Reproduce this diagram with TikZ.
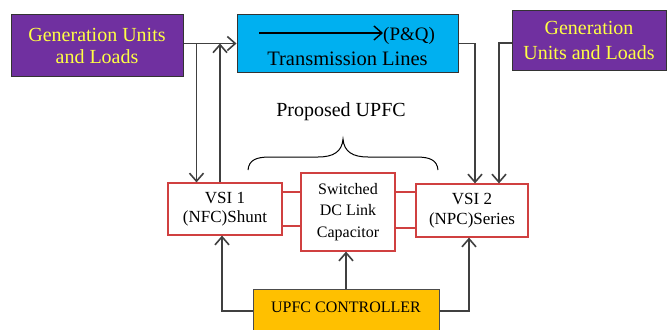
\documentclass[tikz,border=0pt]{standalone}
\usepackage{fontspec}
\setmainfont{Liberation Serif}
\usetikzlibrary{arrows.meta,positioning}
\definecolor{genpurple}{HTML}{7030A0}
\definecolor{genyellow}{HTML}{FFFF44}
\definecolor{linecyan}{HTML}{00B0F0}
\definecolor{ctrlorange}{HTML}{FFC000}
\definecolor{vsired}{HTML}{D04040}
\definecolor{wiregray}{HTML}{404040}

\begin{document}
\begin{tikzpicture}[
  x=1pt, y=-1pt,
  genbox/.style={draw=black!80, line width=1pt, fill=genpurple, text=genyellow, align=center,
    font=\fontsize{20}{22}\selectfont, inner sep=0pt},
  linebox/.style={draw=black!80, line width=1pt, fill=linecyan, align=center,
    font=\fontsize{20.5}{21}\selectfont, inner xsep=0pt, inner ysep=4pt},
  vsibox/.style={draw=vsired, line width=1.2pt, fill=white, align=center,
    font=\fontsize{17}{19.5}\selectfont, inner sep=0pt},
  dcbox/.style={vsibox, font=\fontsize{16}{21.5}\selectfont},
  ctrlbox/.style={draw=black!70, line width=1pt, fill=ctrlorange, align=center,
    font=\fontsize{16}{19}\selectfont, inner xsep=0pt, inner ysep=12pt},
  arr/.style={draw=wiregray, line width=1.6pt, -{Straight Barb[length=8pt,width=14pt]}},
  redlink/.style={draw=vsired, line width=1.2pt}
]
\useasboundingbox (0,0) rectangle (668,329);

% top row
\node[genbox, minimum width=172pt, minimum height=61pt] (gen1) at (97,45.5) {Generation Units\\and Loads};
\node[linebox, minimum width=221pt, minimum height=57pt, text height=46pt, text depth=3pt] (trans) at (347.5,43.5) {Transmission Lines};
\node[genbox, minimum width=154pt, minimum height=60pt, font=\fontsize{20}{25}\selectfont] (gen2) at (589,40.5) {Generation\\Units and Loads};

\coordinate (pqtail) at (259,33);
\node[font=\fontsize{19}{21}\selectfont, inner sep=0pt, anchor=west] (pq) at (383,36) {(P\&Q)};
\draw[arr, line width=1.4pt, draw=black] (pqtail) -- (pq.west |- pqtail);

% UPFC part
\node[font=\fontsize{20}{21}\selectfont, inner sep=0pt] (upfc) at (341,112) {Proposed UPFC};
\draw[line width=1pt] (248,170) .. controls (249,160) and (256,157) .. (270,157) -- (318,157)
  .. controls (333,157) and (342,152) .. (343,139)
  .. controls (344,152) and (353,157) .. (368,157) -- (416,157)
  .. controls (430,157) and (437,160) .. (438,170);

\node[vsibox, minimum width=114pt, minimum height=52pt] (vsi1) at (225,209) {VSI 1\\(NFC)Shunt};
\node[dcbox, minimum width=94pt, minimum height=78pt] (dc) at (348,212) {Switched\\DC Link\\Capacitor};
\node[vsibox, minimum width=112pt, minimum height=53pt] (vsi2) at (472,210.5) {VSI 2\\(NPC)Series};

\node[ctrlbox, anchor=north, minimum width=186pt, text height=11pt, text depth=22pt] (ctrl) at (346,289) {UPFC CONTROLLER};

% connectors
\draw[arr] ([yshift=2pt]gen1.east) -- ([yshift=2pt]gen1.east -| trans.west);
\draw[arr] ([xshift=13pt,yshift=2pt]gen1.east) -- ([xshift=13pt]gen1.east |- vsi1.north);
\draw[arr] ([xshift=-5pt]vsi1.north) -- ([xshift=-5pt,yshift=2pt]vsi1.north |- gen1.east);
\draw[arr] (trans.east) -| ([xshift=3pt]vsi2.north);
\draw[arr] ([yshift=-2.5pt]gen2.west) -| ([xshift=27pt]vsi2.north);

\draw[redlink] ([yshift=17pt]vsi1.east) -- ([yshift=17pt]vsi1.east -| dc.west);
\draw[redlink] ([yshift=-17pt]vsi1.east) -- ([yshift=-17pt]vsi1.east -| dc.west);
\draw[redlink] ([yshift=20pt]dc.east) -- ([yshift=20pt]dc.east -| vsi2.west);
\draw[redlink] ([yshift=-16pt]dc.east) -- ([yshift=-16pt]dc.east -| vsi2.west);

\draw[arr] ([yshift=-22pt]ctrl.north west) -| ([xshift=-3pt]vsi1.south);
\draw[arr] (ctrl.north) -- (ctrl.north |- dc.south);
\draw[arr] ([yshift=-22pt]ctrl.north east) -| ([xshift=-3pt]vsi2.south);
\end{tikzpicture}
\end{document}
